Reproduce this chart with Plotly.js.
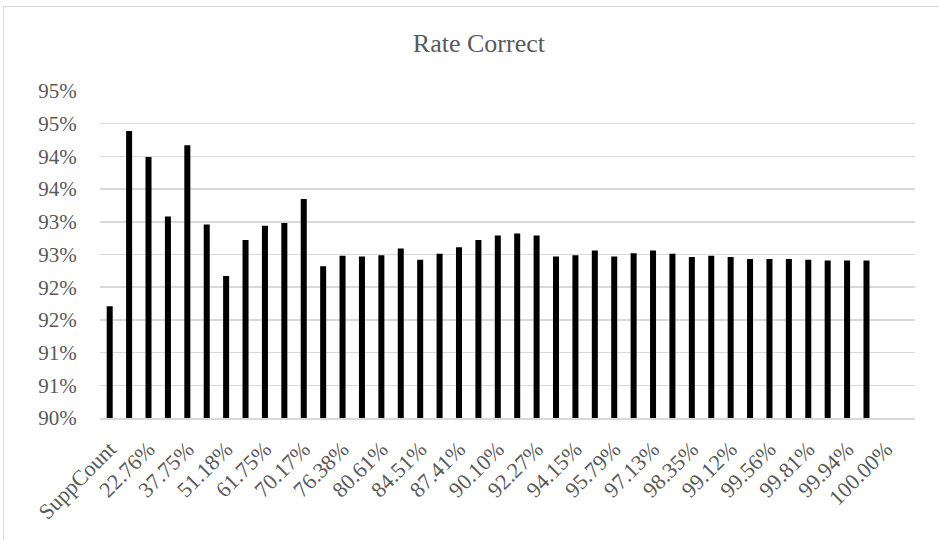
<!DOCTYPE html>
<html>
<head>
<meta charset="utf-8">
<script src="https://cdn.plot.ly/plotly-3.0.1.min.js"></script>
<style>
  html, body { margin: 0; padding: 0; background: #ffffff; overflow: hidden; }
  #wrap { position: relative; width: 939px; height: 540px; }
  #chart { position: absolute; left: 0; top: 0; width: 939px; height: 540px; }
  #frame { position: absolute; left: 3px; top: 6px; width: 960px; height: 560px;
           border: 1.5px solid #d9d9d9; pointer-events: none; }
</style>
</head>
<body>
<div id="wrap">
  <div id="chart"></div>
  <div id="frame"></div>
</div>
<script>
// Rate correct (%) for each support threshold; the last two slots have no bar
const rateCorrect = [
  91.71, 94.39, 93.99, 93.08, 94.17, 92.96, 92.17, 92.72, 92.94, 92.98,
  93.35, 92.32, 92.48, 92.47, 92.49, 92.59, 92.42, 92.51, 92.61, 92.72,
  92.79, 92.82, 92.79, 92.47, 92.49, 92.56, 92.47, 92.52, 92.56, 92.51,
  92.46, 92.48, 92.46, 92.43, 92.43, 92.43, 92.42, 92.41, 92.41, 92.41,
  null, null
];

// Category labels printed on every other slot
const categoryLabels = [
  'SuppCount', '22.76%', '37.75%', '51.18%', '61.75%', '70.17%', '76.38%',
  '80.61%', '84.51%', '87.41%', '90.10%', '92.27%', '94.15%', '95.79%',
  '97.13%', '98.35%', '99.12%', '99.56%', '99.81%', '99.94%', '100.00%'
];

// Value axis ticks (0.5 steps, shown rounded to whole percent)
const yTickValues = [90, 90.5, 91, 91.5, 92, 92.5, 93, 93.5, 94, 94.5, 95];
const yTickLabels = ['90%', '91%', '91%', '92%', '92%', '93%', '93%', '94%', '94%', '95%', '95%'];

const slots = rateCorrect.map((_, i) => i);
const labelSlots = categoryLabels.map((_, i) => i * 2);

const serif = '"Liberation Serif", "Times New Roman", serif';

const trace = {
  type: 'bar',
  x: slots,
  y: rateCorrect,
  width: 0.31,
  marker: { color: '#000000', line: { width: 0 } },
  hoverinfo: 'skip'
};

const layout = {
  width: 939,
  height: 540,
  margin: { l: 100, r: 24, t: 91, b: 122 },
  paper_bgcolor: '#ffffff',
  plot_bgcolor: '#ffffff',
  showlegend: false,
  title: {
    text: 'Rate Correct',
    font: { family: serif, size: 26, color: '#595959' },
    x: 0.51, xanchor: 'center',
    y: 0.92, yanchor: 'middle'
  },
  xaxis: {
    range: [-0.5, slots.length - 0.5],
    tickmode: 'array',
    tickvals: labelSlots,
    ticktext: categoryLabels,
    tickangle: -45,
    ticks: 'outside',
    ticklen: 8,
    tickcolor: 'rgba(0,0,0,0)',
    showgrid: false,
    zeroline: false,
    showline: true,
    linecolor: '#d9d9d9',
    linewidth: 1.5,
    tickfont: { family: serif, size: 22, color: '#595959' },
    fixedrange: true
  },
  yaxis: {
    range: [90, 95],
    tickmode: 'array',
    tickvals: yTickValues,
    ticktext: yTickLabels,
    ticks: 'outside',
    ticklen: 18,
    tickcolor: 'rgba(0,0,0,0)',
    showgrid: true,
    gridcolor: '#d9d9d9',
    gridwidth: 1.5,
    zeroline: false,
    showline: false,
    tickfont: { family: serif, size: 21, color: '#595959' },
    fixedrange: true
  }
};

Plotly.newPlot('chart', [trace], layout, { staticPlot: true, displayModeBar: false });
</script>
</body>
</html>
